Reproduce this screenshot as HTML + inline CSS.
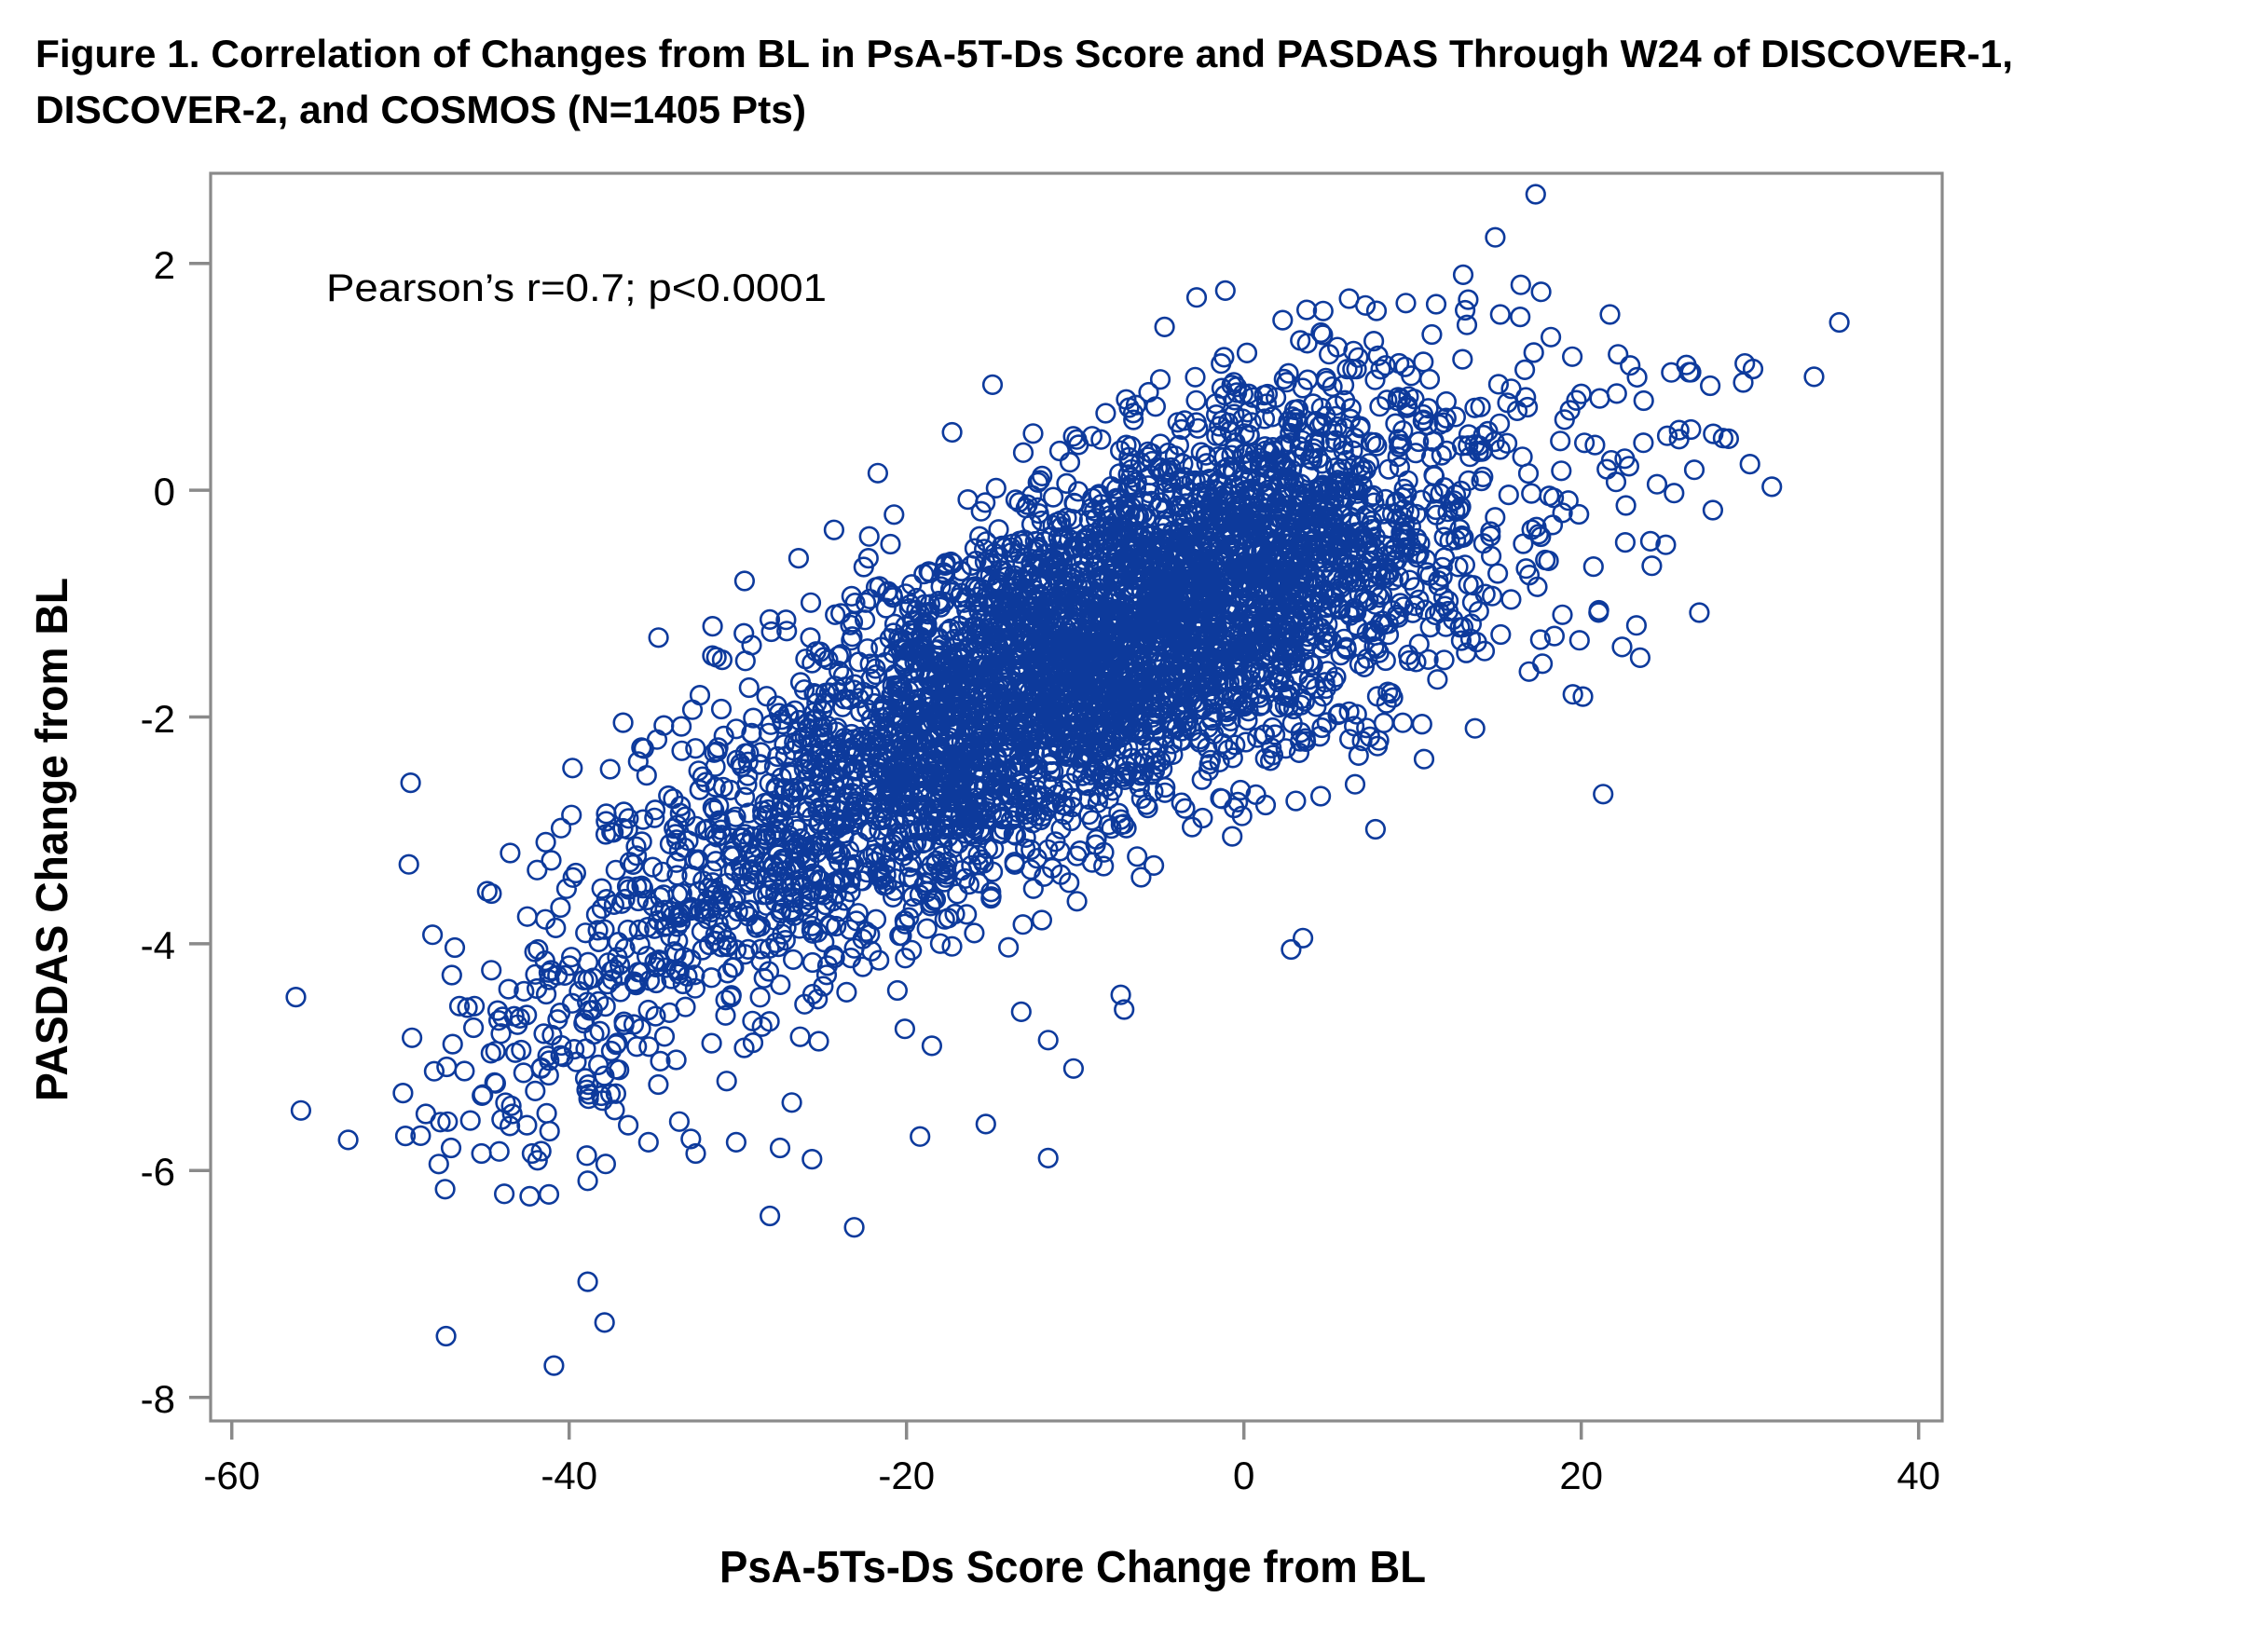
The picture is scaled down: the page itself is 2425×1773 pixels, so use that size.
<!DOCTYPE html>
<html>
<head>
<meta charset="utf-8">
<style>
html,body{margin:0;padding:0;background:#fff;}
svg{display:block}
</style>
</head>
<body>
<svg id="s" width="2425" height="1773" viewBox="0 0 2425 1773" xmlns="http://www.w3.org/2000/svg">
<rect width="2425" height="1773" fill="#fff"/>
<g font-family="'Liberation Sans', Arial, sans-serif" font-weight="bold" fill="#000">
  <text x="38" y="72" font-size="42" textLength="2122" lengthAdjust="spacingAndGlyphs">Figure 1. Correlation of Changes from BL in PsA-5T-Ds Score and PASDAS Through W24 of DISCOVER-1,</text>
  <text x="38" y="132" font-size="42" textLength="827" lengthAdjust="spacingAndGlyphs">DISCOVER-2, and COSMOS (N=1405 Pts)</text>
  <text x="772" y="1698" font-size="48" textLength="758" lengthAdjust="spacingAndGlyphs">PsA-5Ts-Ds Score Change from BL</text>
  <text transform="translate(72,901) rotate(-90)" x="0" y="0" text-anchor="middle" font-size="48" textLength="562" lengthAdjust="spacingAndGlyphs">PASDAS Change from BL</text>
</g>
<path id="pts" fill="none" stroke="#0d3a9c" stroke-width="2.6" d=""/>
<rect x="226" y="186" width="1858" height="1339" fill="none" stroke="#8a8a8a" stroke-width="3.2"/>
<g stroke="#8a8a8a" stroke-width="3.5">
  <line x1="203" y1="282.7" x2="226" y2="282.7"/>
  <line x1="203" y1="526.1" x2="226" y2="526.1"/>
  <line x1="203" y1="769.5" x2="226" y2="769.5"/>
  <line x1="203" y1="1012.9" x2="226" y2="1012.9"/>
  <line x1="203" y1="1256.3" x2="226" y2="1256.3"/>
  <line x1="203" y1="1499.7" x2="226" y2="1499.7"/>
  <line x1="248.7" y1="1525" x2="248.7" y2="1545"/>
  <line x1="610.7" y1="1525" x2="610.7" y2="1545"/>
  <line x1="972.7" y1="1525" x2="972.7" y2="1545"/>
  <line x1="1334.7" y1="1525" x2="1334.7" y2="1545"/>
  <line x1="1696.7" y1="1525" x2="1696.7" y2="1545"/>
  <line x1="2058.7" y1="1525" x2="2058.7" y2="1545"/>
</g>
<g font-family="'Liberation Sans', Arial, sans-serif" font-size="42" fill="#000">
  <text x="188" y="299" text-anchor="end">2</text>
  <text x="188" y="542" text-anchor="end">0</text>
  <text x="188" y="786" text-anchor="end">-2</text>
  <text x="188" y="1029" text-anchor="end">-4</text>
  <text x="188" y="1272" text-anchor="end">-6</text>
  <text x="188" y="1516" text-anchor="end">-8</text>
  <text x="248.7" y="1598" text-anchor="middle">-60</text>
  <text x="610.7" y="1598" text-anchor="middle">-40</text>
  <text x="972.7" y="1598" text-anchor="middle">-20</text>
  <text x="1334.7" y="1598" text-anchor="middle">0</text>
  <text x="1696.7" y="1598" text-anchor="middle">20</text>
  <text x="2058.7" y="1598" text-anchor="middle">40</text>
  <text x="350" y="323" textLength="537" lengthAdjust="spacingAndGlyphs">Pearson’s r=0.7;  p&lt;0.0001</text>
</g>
</svg>
<script>
(function(){
function mulberry32(a){return function(){a|=0;a=a+0x6D2B79F5|0;var t=Math.imul(a^a>>>15,1|a);t=t+Math.imul(t^t>>>7,61|t)^t;return((t^t>>>14)>>>0)/4294967296;};}
var R=mulberry32(20240607);
function N(){var u=1-R(),v=R();return Math.sqrt(-2*Math.log(u))*Math.cos(2*Math.PI*v);}
var comps=[[0.44,-2,7],[0.32,-16,7],[0.15,-30,9],[0.09,2,13]];
var pts=[];
var guard=0;
while(pts.length<4500 && guard<100000){
  guard++;
  var r=R(),c=comps.length-1,acc=0;
  for(var i=0;i<comps.length;i++){acc+=comps[i][0];if(r<acc){c=i;break;}}
  var x=comps[c][1]+comps[c][2]*N();
  if(x<-50||x>32)continue;
  var e=N();
  if(Math.abs(e)>2.8)continue;
  var y=-0.8+0.062*x-0.0007*x*x+0.8*e;
  if(y<-6.3||y>1.9)continue;
  pts.push([x,y]);
}
var out=[[-56.2,-4.47],[-55.9,-5.47],[-53.1,-5.73],[-49.4,-2.58],[-47.3,-7.46],[-40.9,-7.72],
[-38.9,-6.98],[-37.9,-7.34],[-41.2,-6.21],[-38.9,-6.09],[-28.1,-6.4],[-23.1,-6.5],[-19.2,-5.7],
[-15.3,-5.59],[-11.6,-5.89],[17.3,2.61],[14.9,2.23],[35.3,1.48],[33.8,1.0],[29.6,0.95],[31.3,0.03],
[30.0,0.23],[27.0,-1.08],[21.3,-2.68],[19.5,-1.8],[20.1,-1.82],[26.4,1.04],[26.7,0.18],[21.7,1.55],
[13.0,1.9],[13.3,1.68],[11.4,1.64],[-14.9,0.93],[-17.3,0.51],[-21.7,0.15],[-1.1,1.76],[-4.7,1.44],
[-49.5,-3.3],[-48.1,-3.92],[7.8,-2.99],[2.8,-4.05],[3.5,-3.95],[24.1,-0.45],[23.7,0.79],[25.1,0.48],
[25.8,0.53],[16.9,-1.6],[17.7,-1.53],[13.7,-2.1],[-7.3,-4.45],[-7.1,-4.58],[-10.1,-5.1],[-48.5,-5.5],
[-47.0,-5.8],[-45.2,-5.85],[-44,-5.55],[-42.2,-5.85],[-42.5,-5.6],[-46.5,-4.55],[-43.5,-3.2],
[-36.5,-5.6],[-35.3,-5.75],[-32.5,-5.85],[-30.1,-5.75],[-27.5,-5.8],[-25.6,-5.9],[-26.8,-5.4],
[-13.2,-4.6],[-11.6,-4.85],[-20.1,-4.75],[-18.5,-4.9],[20,0.85],[22.9,1.1],[25.8,0.45],[18.2,1.35],
[15.2,1.55],[9.6,1.65],[4.7,1.58],[2.3,1.5],[-2.8,1.7],[-12.5,0.5],[-9.8,0.4],[-26.4,-0.6],
[-24.3,-0.35],[-29.6,-0.8],[-31.5,-1.2],[-34.7,-1.3],[-39.8,-2.45],[-36.8,-2.05],[-41.9,-3.35]];
for(var k=0;k<out.length;k++)pts.push(out[k]);
var d=[],rr=9.8;
for(var j=0;j<pts.length;j++){
  var px=1334.7+18.1*pts[j][0], py=526.1-121.7*pts[j][1];
  d.push('M'+(px-rr).toFixed(1)+' '+py.toFixed(1)+'a'+rr+' '+rr+' 0 1 0 '+(2*rr)+' 0a'+rr+' '+rr+' 0 1 0 '+(-2*rr)+' 0');
}
document.getElementById('pts').setAttribute('d',d.join(''));
})();
</script>
</body>
</html>
